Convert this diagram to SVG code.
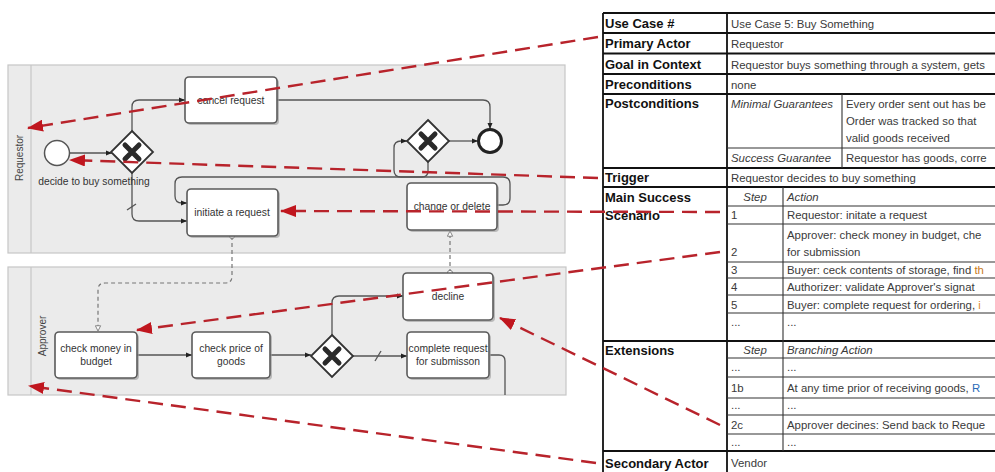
<svg xmlns="http://www.w3.org/2000/svg" width="995" height="472" viewBox="0 0 995 472">
<defs>
<style>
.lane{fill:#ebebeb;stroke:#c6c6c6;stroke-width:1.2}
.band{fill:none;stroke:#c6c6c6;stroke-width:1.2}
.lanelbl{font-family:"Liberation Sans",Arial,sans-serif;font-size:10px;fill:#444}
.task{fill:#fff;stroke:#5a5a5a;stroke-width:1.6}
.shadow{fill:#9a9a9a;opacity:.6}
.tl{font-family:"Liberation Sans",Arial,sans-serif;font-size:10.3px;fill:#333;text-anchor:middle}
.gw{fill:#fff;stroke:#333;stroke-width:1.8}
.gx{stroke:#2a2a2a;stroke-width:5;stroke-linecap:round}
.flow{fill:none;stroke:#555;stroke-width:1.3}
.msg{fill:none;stroke:#777;stroke-width:1.2;stroke-dasharray:4 3}
.red{fill:none;stroke:#b8232b;stroke-width:2.4;stroke-dasharray:15 8}
.tb{fill:none;stroke:#111;stroke-width:1.8}
.ti{fill:none;stroke:#333;stroke-width:1.1}
.lbl{font-family:"Liberation Sans",Arial,sans-serif;font-size:13px;font-weight:bold;fill:#111}
.val{font-family:"Liberation Sans",Arial,sans-serif;font-size:11.4px;fill:#3a3a3a}
.it{font-style:italic}
</style>
<marker id="ah" viewBox="0 0 6 6" refX="6" refY="3" markerWidth="6" markerHeight="6" markerUnits="userSpaceOnUse" orient="auto"><path d="M0,0.5 L6,3 L0,5.5 z" fill="#222"/></marker>
<marker id="ra" viewBox="0 0 16 12" refX="15" refY="6" markerWidth="16" markerHeight="12" markerUnits="userSpaceOnUse" orient="auto"><path d="M0,0 L16,6 L0,12 z" fill="#c0161e"/></marker>
<marker id="mo" viewBox="0 0 8 8" refX="4" refY="4" markerWidth="7" markerHeight="7" markerUnits="userSpaceOnUse"><circle cx="4" cy="4" r="3" fill="#fff" stroke="#777" stroke-width="1"/></marker>
<marker id="me" viewBox="0 0 8 8" refX="7" refY="4" markerWidth="7" markerHeight="7" markerUnits="userSpaceOnUse" orient="auto"><path d="M1,1 L7,4 L1,7 z" fill="#fff" stroke="#777" stroke-width="1"/></marker>
<clipPath id="cv"><rect x="0" y="0" width="995" height="472"/></clipPath>
</defs>

<g id="lane-requestor">
<rect class="lane" x="8" y="65" width="557" height="188"/>
<line class="band" x1="31" y1="65" x2="31" y2="253"/>
<text class="lanelbl" transform="translate(23,158) rotate(-90)" text-anchor="middle">Requestor</text>
</g>
<g id="lane-approver">
<rect class="lane" x="8" y="267" width="558" height="128"/>
<line class="band" x1="31" y1="267" x2="31" y2="395"/>
<text class="lanelbl" transform="translate(46,336) rotate(-90)" text-anchor="middle">Approver</text>
</g>

<g id="connectors">
<path class="flow" d="M70,153 H112" marker-end="url(#ah)"/>
<path class="flow" d="M132,131 V107 Q132,100 139,100 H185" marker-end="url(#ah)"/>
<path class="flow" d="M132,173 V214 Q132,221 139,221 H187" marker-end="url(#ah)"/>
<path class="flow" d="M127,210 L136,204"/>
<path class="flow" d="M277,100 H483 Q490,100 490,107 V129" marker-end="url(#ah)"/>
<path class="flow" d="M449,141 H478" marker-end="url(#ah)"/>
<path class="flow" d="M497,205 H503 Q510,205 510,198 V184 Q510,177 503,177 H401 Q394,177 394,170 V148 Q394,141 401,141 H407" marker-end="url(#ah)"/>
<path class="flow" d="M428,162 V171 Q428,177 422,177 H182 Q175,177 175,184 V196 Q175,203 182,203 H187" marker-end="url(#ah)"/>
<path class="msg" d="M232,236 V276 Q232,283 225,283 H105 Q98,283 98,290 V331" marker-start="url(#mo)" marker-end="url(#me)"/>
<path class="msg" d="M450,273 V231" marker-start="url(#mo)" marker-end="url(#me)"/>
<path class="flow" d="M137,355 H192" marker-end="url(#ah)"/>
<path class="flow" d="M270,355 H311" marker-end="url(#ah)"/>
<path class="flow" d="M352,356 H407" marker-end="url(#ah)"/>
<path class="flow" d="M375,361 L381,351"/>
<path class="flow" d="M332,335 V303 Q332,296 339,296 H403" marker-end="url(#ah)"/>
<path class="flow" d="M490,355 H499 Q505,355 505,361 V395"/>
</g>

<g id="start-event">
<circle cx="57" cy="153" r="12.5" fill="#fff" stroke="#555" stroke-width="1.5"/>
<text class="tl" x="94" y="185">decide to buy something</text>
</g>
<g id="gateway-1">
<path class="gw" d="M132,131 L153,152 L132,173 L111,152 z"/>
<path class="gx" d="M125,145 L139,159 M139,145 L125,159"/>
</g>
<g id="task-cancel-request">
<rect class="shadow" x="187" y="79" width="92" height="46" rx="4"/>
<rect class="task" x="185" y="77" width="92" height="46" rx="4"/>
<text class="tl" x="231" y="103.5">cancel request</text>
</g>
<g id="task-initiate-request">
<rect class="shadow" x="189" y="191" width="91" height="47" rx="4"/>
<rect class="task" x="187" y="189" width="91" height="47" rx="4"/>
<text class="tl" x="232" y="215.5">initiate a request</text>
</g>
<g id="gateway-2">
<path class="gw" d="M428,120 L449,141 L428,162 L407,141 z"/>
<path class="gx" d="M421,134 L435,148 M435,134 L421,148"/>
</g>
<g id="end-event">
<circle cx="490" cy="141" r="11.5" fill="#fff" stroke="#222" stroke-width="3"/>
</g>
<g id="task-change-delete">
<rect class="shadow" x="409" y="185" width="90" height="47" rx="4"/>
<rect class="task" x="407" y="183" width="90" height="47" rx="4"/>
<text class="tl" x="452" y="209.5">change or delete</text>
</g>
<g id="task-check-money">
<rect class="shadow" x="57" y="334" width="82" height="46" rx="4"/>
<rect class="task" x="55" y="332" width="82" height="46" rx="4"/>
<text class="tl" x="96" y="352">check money in</text>
<text class="tl" x="96" y="365">budget</text>
</g>
<g id="task-check-price">
<rect class="shadow" x="194" y="334" width="78" height="46" rx="4"/>
<rect class="task" x="192" y="332" width="78" height="46" rx="4"/>
<text class="tl" x="231" y="352">check price of</text>
<text class="tl" x="231" y="365">goods</text>
</g>
<g id="gateway-3">
<path class="gw" d="M332,335 L353,356 L332,377 L311,356 z"/>
<path class="gx" d="M325,349 L339,363 M339,349 L325,363"/>
</g>
<g id="task-decline">
<rect class="shadow" x="405" y="275" width="90" height="47" rx="4"/>
<rect class="task" x="403" y="273" width="90" height="47" rx="4"/>
<text class="tl" x="448" y="300">decline</text>
</g>
<g id="task-complete-request">
<rect class="shadow" x="409" y="334" width="82" height="46" rx="4"/>
<rect class="task" x="407" y="332" width="82" height="46" rx="4"/>
<text class="tl" x="448" y="352">complete request</text>
<text class="tl" x="448" y="365">for submisson</text>
</g>

<g id="use-case-table" clip-path="url(#cv)">
<rect x="603" y="13" width="400" height="470" fill="#fff"/>
<path class="tb" d="M603,13 H1000 M603,13 V480 M727,13 V480 M603,33 H1000 M603,53.5 H1000 M603,74 H1000 M603,94 H1000 M603,168 H1000 M603,187 H1000 M603,341 H1000 M603,451 H1000"/>
<path class="ti" d="M842,94 V168 M727,148 H1000 M783,187 V341 M727,206 H1000 M727,224 H1000 M727,262 H1000 M727,278 H1000 M727,295 H1000 M727,313 H1000 M783,341 V451 M727,358 H1000 M727,377 H1000 M727,398 H1000 M727,415 H1000 M727,434 H1000"/>
<text class="lbl" x="605" y="28">Use Case #</text>
<text class="lbl" x="605" y="48">Primary Actor</text>
<text class="lbl" x="605" y="68.5">Goal in Context</text>
<text class="lbl" x="605" y="89">Preconditions</text>
<text class="lbl" x="605" y="108">Postconditions</text>
<text class="lbl" x="605" y="182">Trigger</text>
<text class="lbl" x="605" y="201.5">Main Success</text>
<text class="lbl" x="605" y="220">Scenario</text>
<text class="lbl" x="605" y="355">Extensions</text>
<text class="lbl" x="605" y="467.5">Secondary Actor</text>
<text class="val" x="731" y="27.5">Use Case 5: Buy Something</text>
<text class="val" x="731" y="48">Requestor</text>
<text class="val" x="731" y="68.5">Requestor buys something through a system, gets</text>
<text class="val" x="731" y="88.5">none</text>
<text class="val it" x="731" y="107.5">Minimal Guarantees</text>
<text class="val" x="846" y="107.5">Every order sent out has be</text>
<text class="val" x="846" y="124.5">Order was tracked so that</text>
<text class="val" x="846" y="141.5">valid goods received</text>
<text class="val it" x="731" y="162">Success Guarantee</text>
<text class="val" x="846" y="162">Requestor has goods, corre</text>
<text class="val" x="731" y="182">Requestor decides to buy something</text>
<text class="val it" x="755" y="200.5" text-anchor="middle">Step</text>
<text class="val it" x="787" y="200.5">Action</text>
<text class="val" x="731" y="219">1</text>
<text class="val" x="787" y="219">Requestor: initate a request</text>
<text class="val" x="787" y="238.5">Approver: check money in budget, che</text>
<text class="val" x="731" y="256">2</text>
<text class="val" x="787" y="256">for submission</text>
<text class="val" x="731" y="273.5">3</text>
<text class="val" x="787" y="273.5">Buyer: ceck contents of storage, find <tspan fill="#c87a1a">th</tspan></text>
<text class="val" x="731" y="290.5">4</text>
<text class="val" x="787" y="290.5">Authorizer: validate Approver's signat</text>
<text class="val" x="731" y="308.5">5</text>
<text class="val" x="787" y="308.5">Buyer: complete request for ordering, <tspan fill="#e08a2a">i</tspan></text>
<text class="val" x="731" y="326">...</text>
<text class="val" x="787" y="326">...</text>
<text class="val it" x="755" y="353.5" text-anchor="middle">Step</text>
<text class="val it" x="787" y="353.5">Branching Action</text>
<text class="val" x="731" y="371">...</text>
<text class="val" x="787" y="371">...</text>
<text class="val" x="731" y="392">1b</text>
<text class="val" x="787" y="392">At any time prior of receiving goods, <tspan fill="#2a6ab8">R</tspan></text>
<text class="val" x="731" y="409">...</text>
<text class="val" x="787" y="409">...</text>
<text class="val" x="731" y="429">2c</text>
<text class="val" x="787" y="429">Approver decines: Send back to Reque</text>
<text class="val" x="731" y="446">...</text>
<text class="val" x="787" y="446">...</text>
<text class="val" x="731" y="467">Vendor</text>
</g>

<g id="trace-links">
<path class="red" d="M598,37 L28,128" marker-end="url(#ra)"/>
<path class="red" d="M598,178 L70,160" marker-end="url(#ra)"/>
<path class="red" d="M720,212 L281,211" marker-end="url(#ra)"/>
<path class="red" d="M720,252 L137,330" marker-end="url(#ra)"/>
<path class="red" d="M720,425 L500,318" marker-end="url(#ra)"/>
<path class="red" d="M596,463 L29,386" marker-end="url(#ra)"/>
</g>
</svg>
